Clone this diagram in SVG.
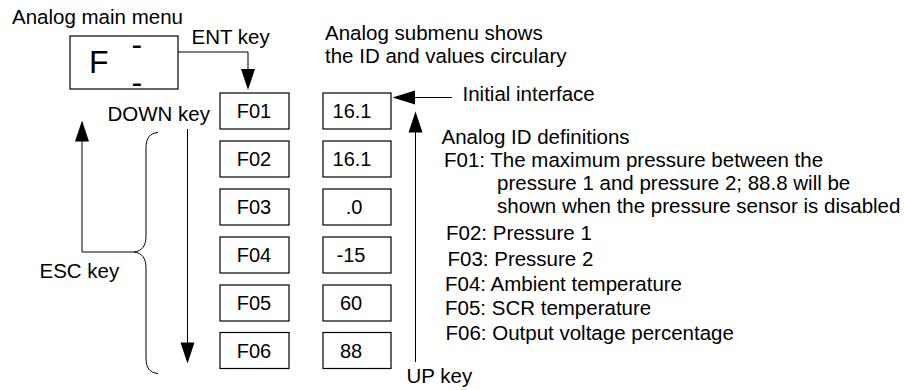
<svg xmlns="http://www.w3.org/2000/svg" width="904" height="390" viewBox="0 0 904 390">
<style>
text{font-family:"Liberation Sans",Arial,sans-serif;fill:#000}
.lbl{font-size:20.5px}
.bx{font-size:20px;text-anchor:middle}
rect{fill:#fff;stroke:#000;stroke-width:1.2}
.ln{fill:none;stroke:#000;stroke-width:1}
.ah{fill:#000;stroke:none}
</style>
<rect x="0" y="0" width="904" height="390" style="stroke:none;fill:#fff"/>
<g id="labels">
<text class="lbl" x="12" y="24">Analog main menu</text>
<text class="lbl" x="191.5" y="43.5">ENT key</text>
<text class="lbl" x="325" y="39.5">Analog submenu shows</text>
<text class="lbl" x="325" y="62.5">the ID and values circulary</text>
<text class="lbl" x="107.5" y="120.5">DOWN key</text>
<text class="lbl" x="462.5" y="101">Initial interface</text>
<text class="lbl" x="39.5" y="278">ESC key</text>
<text class="lbl" x="406.5" y="383">UP key</text>
</g>
<g id="main-menu">
<rect x="70" y="36" width="108" height="53"/>
<text x="89" y="72.5" style="font-size:32px">F</text>
<text x="131.5" y="54.5" style="font-size:32px">-</text>
<text x="131.5" y="93" style="font-size:32px">-</text>
</g>
<g id="id-boxes">
<g id="F01"><rect x="220" y="93" width="69" height="36"/><text class="bx" x="254" y="118">F01</text></g>
<g id="F02"><rect x="220" y="141" width="69" height="36"/><text class="bx" x="254" y="166">F02</text></g>
<g id="F03"><rect x="220" y="189" width="69" height="36"/><text class="bx" x="254" y="214">F03</text></g>
<g id="F04"><rect x="220" y="237" width="69" height="36"/><text class="bx" x="254" y="262">F04</text></g>
<g id="F05"><rect x="220" y="285" width="69" height="36"/><text class="bx" x="254" y="310">F05</text></g>
<g id="F06"><rect x="220" y="332.5" width="69" height="36"/><text class="bx" x="254" y="357.5">F06</text></g>
</g>
<g id="value-boxes">
<g id="V01"><rect x="323" y="93" width="68" height="36"/><text class="bx" x="352" y="118">16.1</text></g>
<g id="V02"><rect x="323" y="141" width="68" height="36"/><text class="bx" x="352" y="166">16.1</text></g>
<g id="V03"><rect x="323" y="189" width="68" height="36"/><text class="bx" x="354" y="214">.0</text></g>
<g id="V04"><rect x="323" y="237" width="68" height="36"/><text class="bx" x="351" y="262">-15</text></g>
<g id="V05"><rect x="323" y="285" width="68" height="36"/><text class="bx" x="351" y="310">60</text></g>
<g id="V06"><rect x="323" y="332.5" width="68" height="36"/><text class="bx" x="351" y="357.5">88</text></g>
</g>
<g id="definitions">
<text class="lbl" x="441.5" y="143.5">Analog ID definitions</text>
<text class="lbl" x="444" y="166.5">F01: The maximum pressure between the</text>
<text class="lbl" x="497" y="189.5">pressure 1 and pressure 2; 88.8 will be</text>
<text class="lbl" x="497" y="212.5">shown when the pressure sensor is disabled</text>
<text class="lbl" x="446" y="239.5">F02: Pressure 1</text>
<text class="lbl" x="447.5" y="265.5">F03: Pressure 2</text>
<text class="lbl" x="445" y="290.5">F04: Ambient temperature</text>
<text class="lbl" x="445" y="315">F05: SCR temperature</text>
<text class="lbl" x="445.5" y="340">F06: Output voltage percentage</text>
</g>
<g id="connectors">
<path class="ln" d="M178,52 H248 V70"/>
<polygon class="ah" points="241,69 255,69 248,90"/>
<path class="ln" d="M187.5,129 V344"/>
<polygon class="ah" points="180.5,342.5 194.5,342.5 187.5,363.5"/>
<path class="ln" d="M415.5,362 V131"/>
<polygon class="ah" points="408.5,132.5 422.5,132.5 415.5,111.5"/>
<path class="ln" d="M452,97.5 H414"/>
<polygon class="ah" points="415,90.5 415,104.5 392.5,97.5"/>
<path class="ln" d="M134,252 H82 V140"/>
<polygon class="ah" points="75,141.5 89,141.5 82,120.5"/>
<path class="ln" d="M158,132.5 C150,133 146,138 146,148 L146,236 C146,246 142,251 134,252 C142,253 146,258 146,268 L146,358 C146,368 150,373 158,373.5"/>
</g>
</svg>
